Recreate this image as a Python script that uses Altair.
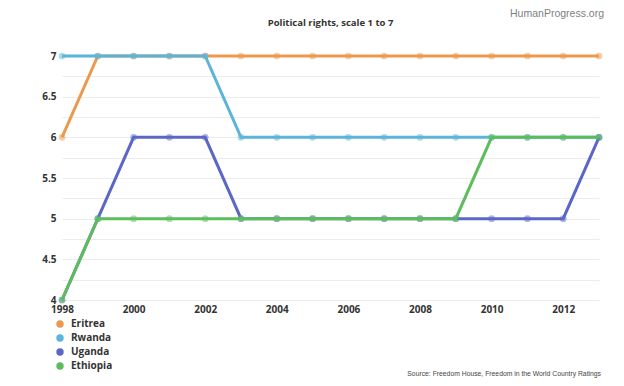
import altair as alt
import pandas as pd

years = list(range(1998, 2014))
countries = ["Eritrea", "Rwanda", "Uganda", "Ethiopia"]
colors = ["#eb9a4d", "#5bb4da", "#5b67c7", "#5dbd5d"]
eritrea = [6, 7, 7, 7, 7, 7, 7, 7, 7, 7, 7, 7, 7, 7, 7, 7]
rwanda = [7, 7, 7, 7, 7, 6, 6, 6, 6, 6, 6, 6, 6, 6, 6, 6]
uganda = [4, 5, 6, 6, 6, 5, 5, 5, 5, 5, 5, 5, 5, 5, 5, 6]
ethiopia = [4, 5, 5, 5, 5, 5, 5, 5, 5, 5, 5, 5, 6, 6, 6, 6]
x_ticks = [1998, 2000, 2002, 2004, 2006, 2008, 2010, 2012]
y_ticks = [4, 4.25, 4.5, 4.75, 5, 5.25, 5.5, 5.75, 6, 6.25, 6.5, 6.75, 7]
title_text = "Political rights, scale 1 to 7"
brand_text = "HumanProgress.org"
source_text = "Source: Freedom House, Freedom in the World Country Ratings"

series = {"Eritrea": eritrea, "Rwanda": rwanda, "Uganda": uganda, "Ethiopia": ethiopia}
rows = []
for c in countries:
    for y, v in zip(years, series[c]):
        rows.append({"country": c, "year": y, "value": v})
df = pd.DataFrame(rows)

W, H = 537, 244

color = alt.Color(
    "country:N",
    scale=alt.Scale(domain=countries, range=colors),
    legend=alt.Legend(
        title=None, orient="none", legendX=-7, legendY=263, direction="vertical",
        symbolType="circle", symbolSize=55, symbolOpacity=1, symbolStrokeWidth=0,
        labelFont="Open Sans", labelFontSize=10, labelFontWeight="bold",
        labelColor="#333333", labelOffset=6, rowPadding=4, padding=0,
    ),
)
x = alt.X("year:Q", scale=alt.Scale(domain=[1998, 2013], nice=False, zero=False),
          axis=alt.Axis(values=x_ticks, format="d", title=None, grid=False, ticks=False,
                        domain=False, labelFlush=False, labelOverlap=False,
                        labelFont="Open Sans", labelFontSize=10,
                        labelFontWeight="bold", labelColor="#333333", labelPadding=4))
y = alt.Y("value:Q", scale=alt.Scale(domain=[4, 7], nice=False, zero=False),
          axis=alt.Axis(values=y_ticks, title=None, ticks=False, domain=False,
                        grid=True, gridColor="#ececec", gridWidth=1, labelOverlap=False,
                        labelExpr="datum.value % 0.5 == 0 ? format(datum.value, '~g') : ''",
                        labelFont="Open Sans", labelFontSize=10, labelFontWeight="bold",
                        labelColor="#333333", labelPadding=6))

base = alt.Chart(df)
layers = []
for c in countries:
    sub = base.transform_filter(alt.datum.country == c)
    layers.append(sub.mark_line(strokeWidth=3).encode(x=x, y=y, color=color))
    layers.append(sub.mark_circle(size=45, opacity=0.5).encode(x=x, y=y, color=color))

title = alt.Chart(pd.DataFrame({"t": [title_text]})).mark_text(
    align="center", baseline="middle", font="Open Sans", fontSize=9.5, fontWeight="bold",
    color="#333333"
).encode(text="t:N", x=alt.value(W / 2), y=alt.value(-33))
hp = alt.Chart(pd.DataFrame({"t": [brand_text]})).mark_text(
    align="right", baseline="middle", font="Liberation Sans", fontSize=10.5, color="#808080"
).encode(text="t:N", x=alt.value(W + 5), y=alt.value(-42))
src = alt.Chart(pd.DataFrame({"t": [source_text]})).mark_text(
    align="right", baseline="middle", font="Liberation Sans", fontSize=6.8, color="#444444"
).encode(text="t:N", x=alt.value(W + 2), y=alt.value(318))

chart = alt.layer(*layers, title, hp, src).properties(
    width=W, height=H,
    autosize=alt.AutoSizeParams(type="none"),
    padding={"left": 54, "top": 48, "right": 17, "bottom": 78},
).configure(background="white").configure_view(
    stroke="transparent", strokeWidth=0
).configure_axisX(grid=False, domain=False, ticks=False)

chart.save("out.html", embed_options={"renderer": "svg", "actions": False})
